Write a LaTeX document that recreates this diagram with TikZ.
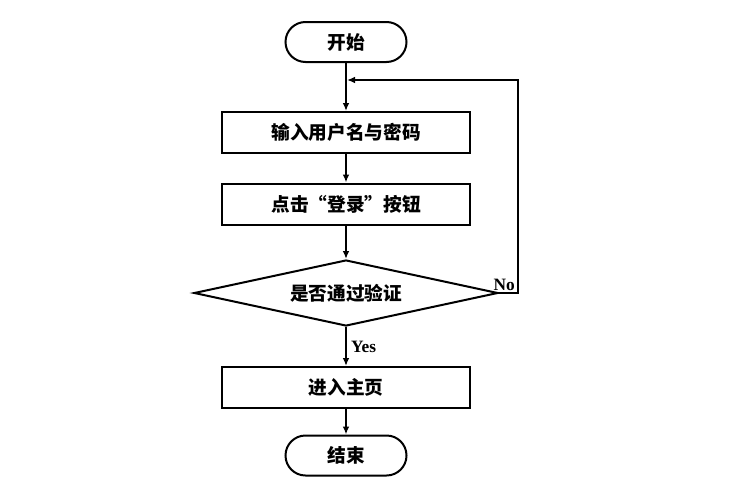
\documentclass[tikz,border=0pt]{standalone}
\usepackage{fontspec}
\setmainfont{Noto Sans CJK SC}
\newfontfamily\lblfont{Liberation Serif}
\usetikzlibrary{shapes.geometric,arrows.meta,positioning,calc}

\tikzset{
    procbox/.style={draw, line width=1.5pt, minimum width=186pt, minimum height=30.75pt, inner sep=0pt, font=\fontsize{14pt}{16pt}\selectfont\bfseries},
    termbox/.style={draw, line width=1.5pt, rounded corners=15pt, minimum width=90.75pt, minimum height=30pt, inner sep=0pt, font=\fontsize{14pt}{16pt}\selectfont\bfseries},
    decbox/.style={draw, diamond, aspect=4.6, line width=1.5pt, minimum width=228pt, minimum height=49.5pt, inner sep=0pt, font=\fontsize{14pt}{16pt}\selectfont\bfseries},
    lbl/.style={font=\lblfont\fontsize{13pt}{15pt}\selectfont\bfseries, inner sep=1pt},
    flow/.style={line width=1.5pt, -{Latex[length=6pt,width=5pt]}}
}

\begin{document}
\begin{tikzpicture}[x=0.75pt,y=-0.75pt]
    \useasboundingbox (0,0) rectangle (745,496);

    % Start and end
    \node[termbox] (start) at (346,42) {开始};
    \node[termbox] (stop) at (346,455.5) {结束};

    % Steps
    \node[procbox] (input) at (346,132.5) {输入用户名与密码};
    \node[procbox] (click) at (346,204) {点击“登录”按钮};
    \node[decbox] (check) at (346,293) {是否通过验证};
    \node[procbox] (home) at (346,387.5) {进入主页};

    % Loop back
    \coordinate (loopin) at (347,80);
    \coordinate (loopr) at (518,80);

    % Arrows
    \draw[flow] (start) -- (input);
    \draw[flow] (input) -- (click);
    \draw[flow] (click) -- (check.north);
    \draw[flow] (check.south) -- node[lbl, right=2pt] {Yes} (home);
    \draw[flow] (home) -- (stop);
    \draw[flow] (check.east) -| (loopr) -- (loopin);
    \node[lbl, anchor=south east] (nolbl) at ($(check.east -| loopr)+(-1.5,-1)$) {No};
\end{tikzpicture}
\end{document}
